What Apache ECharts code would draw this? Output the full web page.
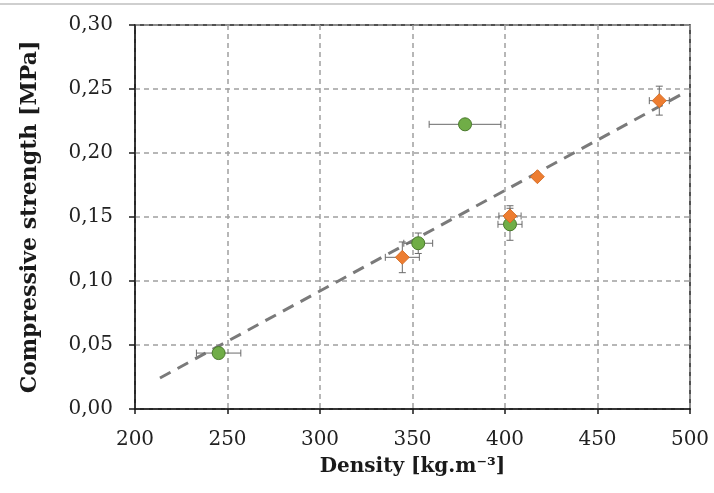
<!DOCTYPE html>
<html>
<head>
<meta charset="utf-8">
<script src="https://cdn.jsdelivr.net/npm/echarts@6/dist/echarts.min.js"></script>
<style>html,body{margin:0;padding:0;background:#fff}#c{width:714px;height:493px}</style>
</head>
<body>
<div id="c"></div>
<script>
// Series A (green circles): density, strength, density error, strength error
const greenX = [245.2, 353.1, 378.4, 402.7];
const greenY = [0.0437, 0.1295, 0.2224, 0.1443];
const greenXErr = [12, 7.8, 19.4, 6.5];
const greenYErr = [0.003, 0.008, 0.003, 0.0125];
// Series B (orange diamonds)
const orangeX = [344.5, 402.7, 417.5, 483.4];
const orangeY = [0.1185, 0.1508, 0.1815, 0.2409];
const orangeXErr = [9.2, 6, 1.5, 5.4];
const orangeYErr = [0.012, 0.008, 0.002, 0.0113];
// Linear trend line endpoints
const trendX = [213.5, 497.8];
const trendY = [0.0242, 0.2477];
// Tick labels
const xTicks = [200, 250, 300, 350, 400, 450, 500];
const yTickValues = [0, 0.05, 0.10, 0.15, 0.20, 0.25, 0.30];
const yTickLabels = ['0,00', '0,05', '0,10', '0,15', '0,20', '0,25', '0,30'];

const FONT = 'DejaVu Serif';

function zip(xs, ys, exs, eys) {
  return xs.map((x, i) => exs ? [x, ys[i], exs[i], eys[i]] : [x, ys[i]]);
}

function renderErr(params, api) {
  const x = api.value(0), y = api.value(1), ex = api.value(2), ey = api.value(3);
  const children = [];
  const cap = 3.5;
  const st = { stroke: '#6a6a6a', lineWidth: 1 };
  if (ex > 0) {
    const l = api.coord([x - ex, y]), r = api.coord([x + ex, y]);
    children.push({ type: 'line', shape: { x1: l[0], y1: l[1], x2: r[0], y2: r[1] }, style: st });
    children.push({ type: 'line', shape: { x1: l[0], y1: l[1] - cap, x2: l[0], y2: l[1] + cap }, style: st });
    children.push({ type: 'line', shape: { x1: r[0], y1: r[1] - cap, x2: r[0], y2: r[1] + cap }, style: st });
  }
  if (ey > 0) {
    const t = api.coord([x, y + ey]), b = api.coord([x, y - ey]);
    children.push({ type: 'line', shape: { x1: t[0], y1: t[1], x2: b[0], y2: b[1] }, style: st });
    children.push({ type: 'line', shape: { x1: t[0] - cap, y1: t[1], x2: t[0] + cap, y2: t[1] }, style: st });
    children.push({ type: 'line', shape: { x1: b[0] - cap, y1: b[1], x2: b[0] + cap, y2: b[1] }, style: st });
  }
  return { type: 'group', children };
}

const chart = echarts.init(document.getElementById('c'), null, { renderer: 'canvas' });
chart.setOption({
  animation: false,
  backgroundColor: '#fff',
  graphic: [{ type: 'rect', shape: { x: 0, y: 3, width: 714, height: 2 }, style: { fill: '#cfcfcf' } }],
  grid: { left: 135, right: 24, top: 25, bottom: 84, show: true, borderColor: '#1a1a1a', borderWidth: 1.5 },
  xAxis: {
    type: 'value', min: 200, max: 500, interval: 50,
    name: 'Density [kg.m\u207B\u00B3]', nameLocation: 'middle', nameGap: 48,
    nameTextStyle: { fontFamily: FONT, fontWeight: 'bold', fontSize: 20, color: '#1a1a1a' },
    axisLine: { show: true, lineStyle: { color: '#1a1a1a', width: 1.5 } },
    axisTick: { show: true, length: 5, lineStyle: { color: '#1a1a1a', width: 1.5 } },
    axisLabel: { fontFamily: FONT, fontSize: 20, color: '#222', margin: 21,
      formatter: v => xTicks.includes(v) ? String(v) : '' },
    splitLine: { show: true, lineStyle: { color: '#a0a0a0', type: [5, 4], width: 1.5 } }
  },
  yAxis: {
    type: 'value', min: 0, max: 0.30, interval: 0.05,
    name: 'Compressive strength [MPa]', nameLocation: 'middle', nameGap: 94,
    nameTextStyle: { fontFamily: FONT, fontWeight: 'bold', fontSize: 22, color: '#1a1a1a' },
    axisLine: { show: true, lineStyle: { color: '#1a1a1a', width: 1.5 } },
    axisTick: { show: true, length: 6, lineStyle: { color: '#1a1a1a', width: 1.5 } },
    axisLabel: { fontFamily: FONT, fontSize: 20, color: '#222', margin: 22,
      formatter: v => { const i = yTickValues.findIndex(t => Math.abs(t - v) < 1e-9); return i >= 0 ? yTickLabels[i] : ''; } },
    splitLine: { show: true, lineStyle: { color: '#a0a0a0', type: [5, 4], width: 1.5 } }
  },
  series: [
    { type: 'line', data: zip(trendX, trendY), symbol: 'none', silent: true, z: 2,
      lineStyle: { color: '#7a7a7a', width: 3, type: [12, 8] } },
    { type: 'custom', renderItem: renderErr, data: zip(greenX, greenY, greenXErr, greenYErr), z: 3 },
    { type: 'custom', renderItem: renderErr, data: zip(orangeX, orangeY, orangeXErr, orangeYErr), z: 3 },
    { type: 'scatter', data: zip(greenX, greenY), symbol: 'circle', symbolSize: 13, z: 4,
      itemStyle: { color: '#70AD47', borderColor: '#4a7a2c', borderWidth: 1, opacity: 1 } },
    { type: 'scatter', data: zip(orangeX, orangeY), symbol: 'diamond', symbolSize: 14, z: 4,
      itemStyle: { color: '#ED7D31', borderColor: '#d0661c', borderWidth: 0.8, opacity: 1 } }
  ]
});
</script>
</body>
</html>
